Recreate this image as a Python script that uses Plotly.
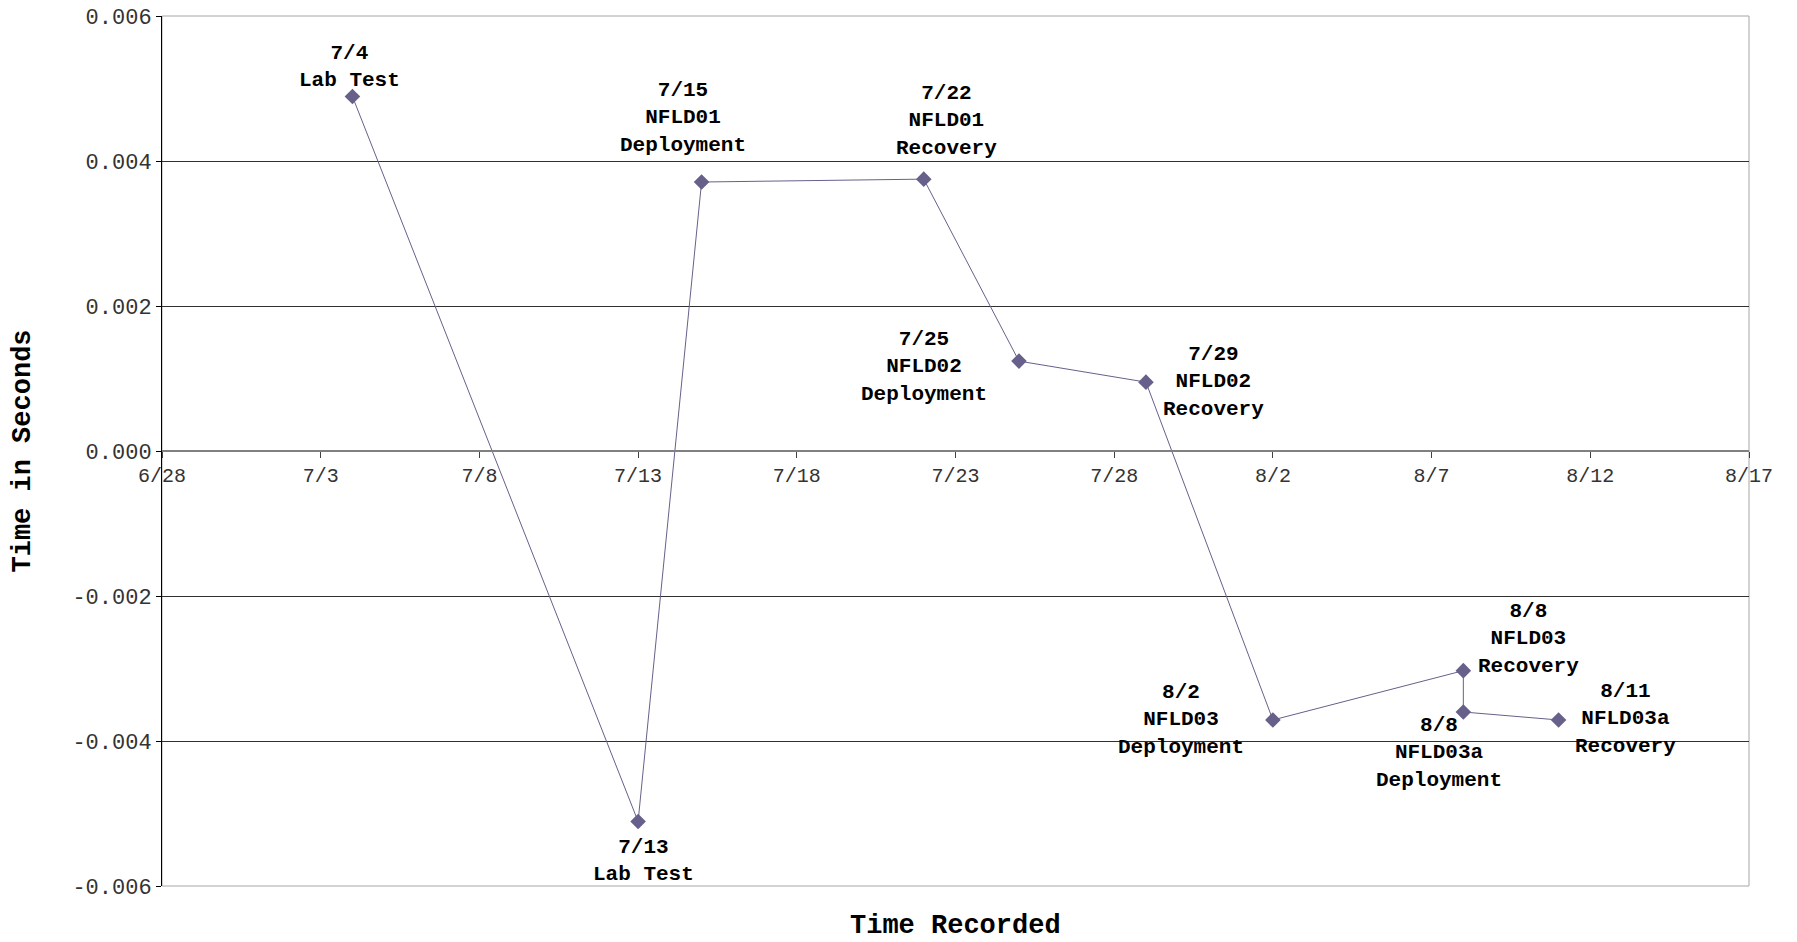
import plotly.graph_objects as go

# ---- data ----
dates = ["2008-07-04", "2008-07-13", "2008-07-15", "2008-07-22", "2008-07-25",
         "2008-07-29", "2008-08-02", "2008-08-08", "2008-08-08", "2008-08-11"]
offsets = [0.00489, -0.00511, 0.00371, 0.00375, 0.00124,
           0.00095, -0.00371, -0.00303, -0.00360, -0.00371]
labels = ["7/4<br>Lab Test", "7/13<br>Lab Test", "7/15<br>NFLD01<br>Deployment",
          "7/22<br>NFLD01<br>Recovery", "7/25<br>NFLD02<br>Deployment",
          "7/29<br>NFLD02<br>Recovery", "8/2<br>NFLD03<br>Deployment",
          "8/8<br>NFLD03<br>Recovery", "8/8<br>NFLD03a<br>Deployment",
          "8/11<br>NFLD03a<br>Recovery"]
y_tickvals = [0.006, 0.004, 0.002, 0.0, -0.002, -0.004, -0.006]
y_ticktext = ["0.006", "0.004", "0.002", "0.000", "-0.002", "-0.004", "-0.006"]
x_range = ["2008-06-28", "2008-08-17"]

# ---- label placement (pixel offsets from each point: dx, dy-up) ----
label_shift = [(-3, 29), (5, -40), (-19, 64), (23, 58), (-95, -6),
               (68, 0), (-92, 0), (65, 32), (-24, -41), (67, 1)]

MONO = "Liberation Mono"
COL = "#67608A"

fig = go.Figure()
fig.add_trace(go.Scatter(
    x=dates, y=offsets, mode="lines+markers",
    line=dict(color=COL, width=1),
    marker=dict(symbol="diamond", size=12, color=COL),
    hoverinfo="x+y", showlegend=False,
))

annotations = []
for d, v, t, (dx, dy) in zip(dates, offsets, labels, label_shift):
    annotations.append(dict(
        x=d, y=v, xref="x", yref="y", text=t, showarrow=False,
        xshift=dx, yshift=dy, xanchor="center", yanchor="middle",
        align="center", font=dict(family=MONO, size=21, color="black", weight="bold"),
    ))
annotations.append(dict(
    x=0.5, y=0, xref="paper", yref="paper", text="Time Recorded", showarrow=False,
    xanchor="center", yanchor="middle", yshift=-40,
    font=dict(family=MONO, size=27, color="black", weight="bold"),
))

fig.update_layout(
    width=1797, height=942, autosize=False,
    margin=dict(l=162, r=48, t=16, b=56, autoexpand=False),
    plot_bgcolor="white", paper_bgcolor="white",
    annotations=annotations,
    shapes=[dict(type="rect", xref="x domain", yref="y domain", x0=0, x1=1, y0=0, y1=1,
                 line=dict(color="#a6a6a6", width=1), layer="below")],
    xaxis=dict(
        type="date", range=x_range, anchor="free", position=0.5,
        tick0=x_range[0], dtick=5 * 86400000, tickformat="%-m/%-d",
        showgrid=False, zeroline=False,
        showline=True, linecolor="#808080", linewidth=2,
        ticks="outside", ticklen=6, tickcolor="#404040",
        tickfont=dict(family=MONO, size=20, color="#333333"),
    ),
    yaxis=dict(
        range=[-0.006, 0.006], tickvals=y_tickvals, ticktext=y_ticktext,
        showgrid=True, gridcolor="#303030", gridwidth=1, zeroline=False,
        showline=True, linecolor="black", linewidth=1,
        ticks="outside", ticklen=5, tickcolor="black",
        tickfont=dict(family=MONO, size=22, color="#333333"),
        title=dict(text="Time in Seconds", standoff=33,
                   font=dict(family=MONO, size=27, color="black", weight="bold")),
    ),
)

fig.write_html("out.html")
